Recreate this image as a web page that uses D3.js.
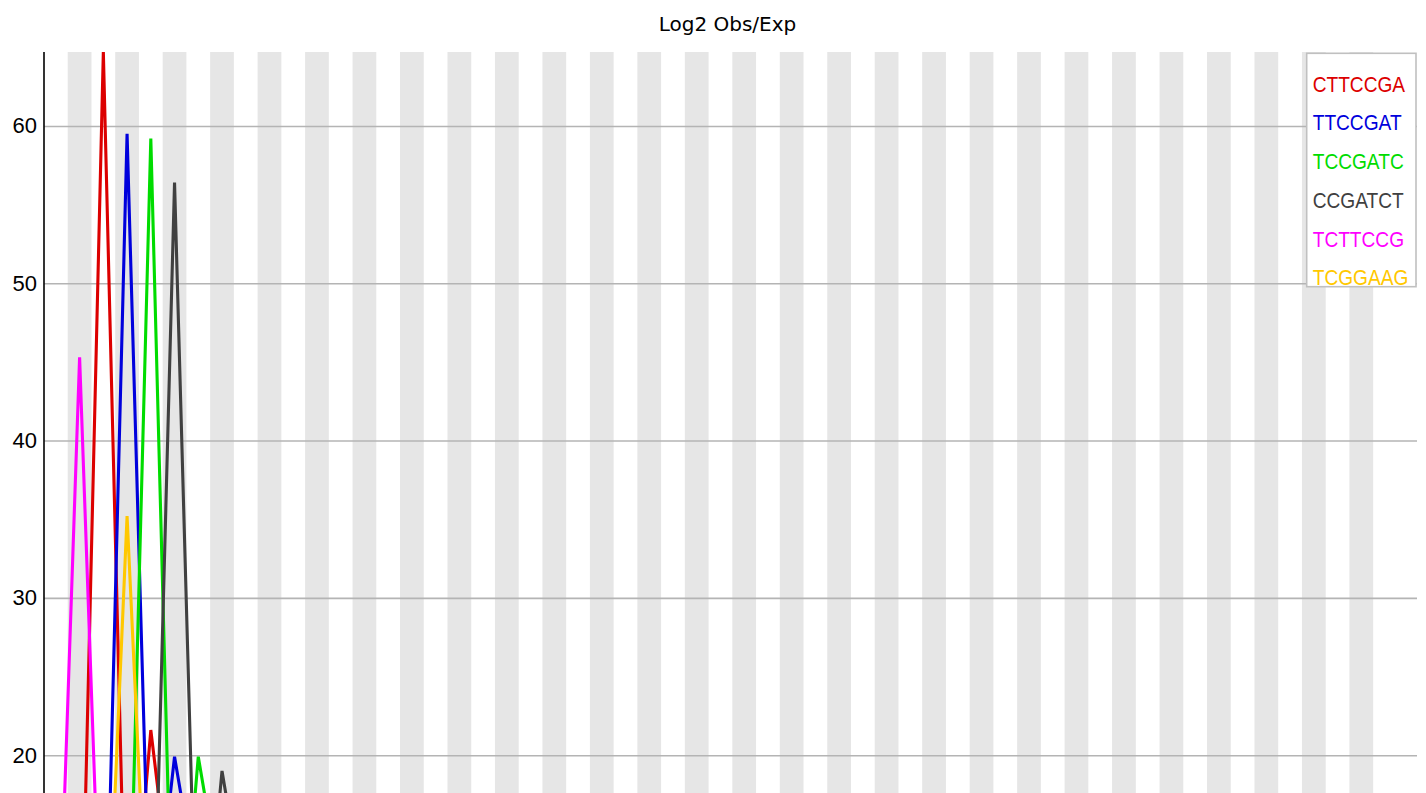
<!DOCTYPE html>
<html>
<head>
<meta charset="utf-8">
<script src="https://cdn.jsdelivr.net/npm/d3@7"></script>
<style>
  html, body { margin: 0; padding: 0; background: #fff; overflow: hidden; width: 1426px; height: 793px; }
  svg { display: block; }
</style>
</head>
<body>
<svg width="1426" height="1100"></svg>
<script>
// base position groups (x axis, cropped out of the picture)
const positions = ["1","2","3","4","5","6","7","8","9","10","11","12","13","14","15","16","17","18","19","20",
  "21","22","23","24","25","26","27","28","29","30","31","32","33","34","35","36","37","38","39","40",
  "41","42","43","44","45","46","47","48","49","50","51","52","53","54","55","56","57"];

const kmers = ["CTTCCGA", "TTCCGAT", "TCCGATC", "CCGATCT", "TCTTCCG", "TCGGAAG"];

// log2 obs/exp per position, one array per kmer
const cttccga = [0, 1.4, 64.7, 3.7, 21.6, 9.0, 0, 0, 0, 0, 0, 0, 0, 0, 0, 0, 0, 0, 0, 0,
  0, 0, 0, 0, 0, 0, 0, 0, 0, 0, 0, 0, 0, 0, 0, 0, 0, 0, 0, 0,
  0, 0, 0, 0, 0, 0, 0, 0, 0, 0, 0, 0, 0, 0, 0, 0, 0];
const ttccgat = [0, 0, 0, 59.5, 6.5, 19.9, 11.0, 0, 0, 0, 0, 0, 0, 0, 0, 0, 0, 0, 0, 0,
  0, 0, 0, 0, 0, 0, 0, 0, 0, 0, 0, 0, 0, 0, 0, 0, 0, 0, 0, 0,
  0, 0, 0, 0, 0, 0, 0, 0, 0, 0, 0, 0, 0, 0, 0, 0, 0];
const tccgatc = [0, 0, 0, 2.0, 59.2, 1.9, 19.9, 11.0, 0, 0, 0, 0, 0, 0, 0, 0, 0, 0, 0, 0,
  0, 0, 0, 0, 0, 0, 0, 0, 0, 0, 0, 0, 0, 0, 0, 0, 0, 0, 0, 0,
  0, 0, 0, 0, 0, 0, 0, 0, 0, 0, 0, 0, 0, 0, 0, 0, 0];
const ccgatct = [0, 0, 0, 0, 0, 56.4, 2.6, 19.0, 10.0, 0, 0, 0, 0, 0, 0, 0, 0, 0, 0, 0,
  0, 0, 0, 0, 0, 0, 0, 0, 0, 0, 0, 0, 0, 0, 0, 0, 0, 0, 0, 0,
  0, 0, 0, 0, 0, 0, 0, 0, 0, 0, 0, 0, 0, 0, 0, 0, 0];
const tcttccg = [1.2, 45.3, 2.6, 0, 0, 0, 0, 0, 0, 0, 0, 0, 0, 0, 0, 0, 0, 0, 0, 0,
  0, 0, 0, 0, 0, 0, 0, 0, 0, 0, 0, 0, 0, 0, 0, 0, 0, 0, 0, 0,
  0, 0, 0, 0, 0, 0, 0, 0, 0, 0, 0, 0, 0, 0, 0, 0, 0];
const tcggaag = [0, 0, 0.6, 35.2, 3.0, 0, 0, 0, 0, 0, 0, 0, 0, 0, 0, 0, 0, 0, 0, 0,
  0, 0, 0, 0, 0, 0, 0, 0, 0, 0, 0, 0, 0, 0, 0, 0, 0, 0, 0, 0,
  0, 0, 0, 0, 0, 0, 0, 0, 0, 0, 0, 0, 0, 0, 0, 0, 0];

// only the ticks that fall inside the visible part of the plot
const yTicks = [20, 30, 40, 50, 60];
const colors = ["rgb(220,0,0)", "rgb(0,0,220)", "rgb(0,220,0)", "rgb(64,64,64)", "rgb(255,0,255)", "rgb(255,200,0)"];

const series = [cttccga, ttccgat, tccgatc, ccgatct, tcttccg, tcggaag];

let svg = d3.select("svg");

// plot box; the bottom lies below the visible window
const plotLeft = 44, plotTop = 52, plotRight = 1417, plotBottom = 1069.8;
const colW = 23.735;

let x = d3.scaleLinear().domain([0, positions.length]).range([plotLeft, plotLeft + positions.length * colW]);
let y = d3.scaleLinear().domain([0, d3.max(series, s => d3.max(s))]).range([plotBottom, plotTop]);

// alternating stripes behind the data
svg.append("g")
  .selectAll("rect")
  .data(positions.filter((p, i) => i % 2 == 1))
  .enter().append("rect")
    .attr("x", p => x(positions.indexOf(p)))
    .attr("y", plotTop)
    .attr("width", colW)
    .attr("height", plotBottom - plotTop)
    .attr("fill", "#e6e6e6");

// y axis with grid lines across the plot
let yAxis = svg.append("g")
  .attr("transform", "translate(" + plotLeft + ",0)")
  .call(d3.axisLeft(y).tickValues(yTicks).tickSizeInner(-(plotRight - plotLeft)).tickSizeOuter(0).tickPadding(7));

yAxis.select(".domain").remove();
yAxis.selectAll(".tick line").attr("stroke", "#b4b4b4").attr("stroke-width", 1.6);
yAxis.selectAll(".tick text")
  .attr("font-family", "'Liberation Sans', Arial, sans-serif")
  .attr("font-size", 22)
  .attr("fill", "#000");

svg.append("line")
  .attr("x1", plotLeft).attr("x2", plotLeft)
  .attr("y1", plotTop).attr("y2", plotBottom)
  .attr("stroke", "#000")
  .attr("stroke-width", 1.6);

// one line per kmer
let line = d3.line()
  .x((d, i) => x(i + 0.5))
  .y(d => y(d));

svg.append("g")
  .selectAll("path")
  .data(series)
  .enter().append("path")
    .attr("d", line)
    .attr("fill", "none")
    .attr("stroke", (d, i) => colors[i])
    .attr("stroke-width", 3.1)
    .attr("stroke-linejoin", "miter");

// title
svg.append("text")
  .attr("x", 727.5)
  .attr("y", 30.7)
  .attr("text-anchor", "middle")
  .attr("font-family", "'DejaVu Sans', sans-serif")
  .attr("font-size", 20)
  .attr("fill", "#000")
  .text("Log2 Obs/Exp");

// legend
let legend = svg.append("g");
legend.append("rect")
  .attr("x", 1306.7).attr("y", 53.3)
  .attr("width", 109.3).attr("height", 233.4)
  .attr("fill", "#fff")
  .attr("stroke", "#c0c0c0")
  .attr("stroke-width", 1.6);

legend.selectAll("text")
  .data(kmers)
  .enter().append("text")
    .attr("transform", (d, i) => "translate(1312.7," + (91.7 + i * 38.7) + ") scale(0.85,1)")
    .attr("font-family", "'Liberation Sans', Arial, sans-serif")
    .attr("font-size", 22.5)
    .attr("fill", (d, i) => colors[i])
    .text(d => d);
</script>
</body>
</html>
